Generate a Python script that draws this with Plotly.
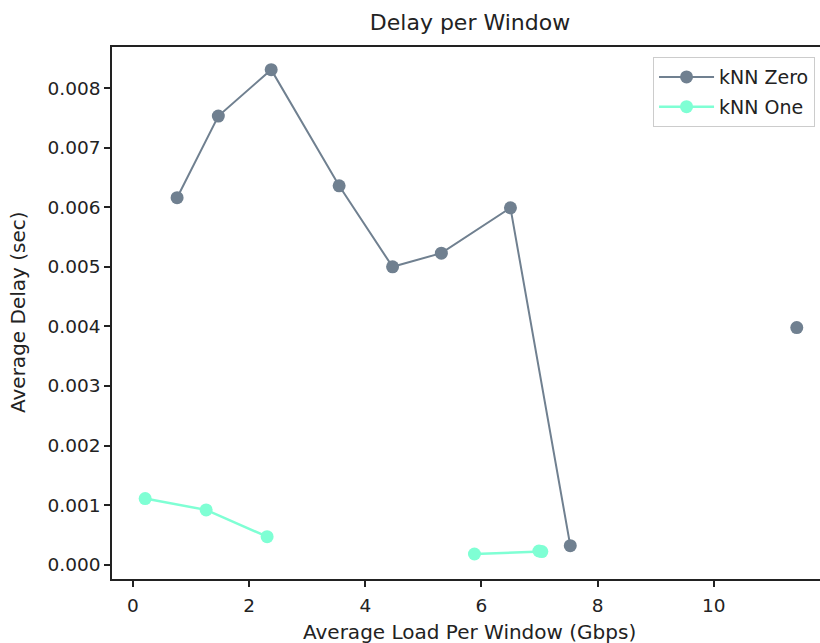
import plotly.graph_objects as go

# kNN Zero series (None = gap in line)
zero_x = [0.76, 1.47, 2.38, 3.55, 4.47, 5.31, 6.50, 7.53, None, 11.43]
zero_y = [0.00616, 0.00753, 0.00831, 0.00636, 0.00500, 0.00523, 0.00599, 0.00032, None, 0.00398]

# kNN One series
one_x = [0.21, 1.26, 2.31, None, 5.88, 6.99, 7.04]
one_y = [0.00111, 0.00092, 0.00047, None, 0.00018, 0.00023, 0.00022]

x_ticks = [0, 2, 4, 6, 8, 10]
y_ticks = [0.000, 0.001, 0.002, 0.003, 0.004, 0.005, 0.006, 0.007, 0.008]

font = "DejaVu Sans"
ink = "#222"

fig = go.Figure()
fig.add_trace(go.Scatter(x=zero_x, y=zero_y, mode="lines+markers", name="kNN Zero",
                         legendgroup="zero",
                         line=dict(color="#708090", width=2),
                         marker=dict(color="#708090", size=13), connectgaps=False))
fig.add_trace(go.Scatter(x=one_x, y=one_y, mode="lines+markers", name="kNN One",
                         legendgroup="one",
                         line=dict(color="#7FFFD4", width=2.5),
                         marker=dict(color="#7FFFD4", size=13), connectgaps=False))

axis_common = dict(showgrid=False, zeroline=False, showline=True, linecolor=ink,
                   linewidth=1.5, ticks="outside", ticklen=6, tickwidth=1.5, tickcolor=ink,
                   automargin=False,
                   tickfont=dict(family=font, size=18.5, color=ink))

L, T, B = 112, 47, 64

fig.update_layout(
    width=820, height=643,
    paper_bgcolor="white", plot_bgcolor="white",
    margin=dict(l=L, r=0, t=T, b=B, autoexpand=False),
    title=dict(text="Delay per Window", x=470 / 820, xanchor="center",
               xref="container", y=1 - 22 / 643, yref="container", yanchor="middle",
               font=dict(family=font, size=22, color=ink)),
    xaxis=dict(range=[-0.361, 11.83], tickvals=x_ticks, mirror=True,
               ticklabelstandoff=3, **axis_common),
    yaxis=dict(range=[-0.00024, 0.00869], tickvals=y_ticks, tickformat=".3f",
               **axis_common),
    legend=dict(x=0.993, y=0.981, xanchor="right", yanchor="top",
                bgcolor="rgba(255,255,255,0.8)", bordercolor="#ccc", borderwidth=1,
                itemwidth=55, tracegroupgap=2, traceorder="grouped",
                font=dict(family=font, size=19, color=ink)),
    showlegend=True,
    annotations=[
        dict(text="Average Load Per Window (Gbps)", xref="paper", yref="paper",
             x=(470 - L) / (820 - L), y=0, yshift=-(632 - 579), xanchor="center",
             yanchor="middle", showarrow=False, font=dict(family=font, size=20, color=ink)),
        dict(text="Average Delay (sec)", xref="paper", yref="paper", textangle=-90,
             x=0, xshift=18 - L, y=(579 - 312) / (579 - 47), xanchor="center",
             yanchor="middle", showarrow=False, font=dict(family=font, size=20, color=ink)),
    ],
)

fig.write_html("out.html", config={"displayModeBar": False},
               post_script="document.body.style.margin='0';document.body.style.overflow='hidden';")
